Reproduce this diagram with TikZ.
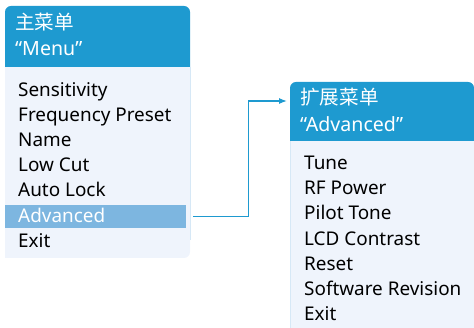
\documentclass[tikz,border=0pt]{standalone}
\usepackage{fontspec}
\setmainfont{Noto Sans}
\newfontfamily\cjk{Noto Sans CJK SC}
\usetikzlibrary{arrows.meta}
\definecolor{hdrblue}{RGB}{30,154,208}
\definecolor{bodybg}{RGB}{239,244,252}
\definecolor{bodyline}{RGB}{214,232,246}
\definecolor{barblue}{RGB}{125,182,224}
\tikzset{
  item/.style={anchor=base west, inner sep=0pt, text=black,
    font=\fontsize{18.9}{20}\selectfont},
  hdrtext/.style={item, text=white, font=\fontsize{19.6}{21}\selectfont},
  bartext/.style={item, text=white},
  barbox/.style={fill=barblue, anchor=north west, inner sep=0pt,
    minimum width=181pt, minimum height=23pt},
  link/.style={draw=hdrblue, line width=1.2pt, -{Latex[length=8pt,width=6pt]}}
}
\begin{document}
\begin{tikzpicture}[x=1pt, y=-1pt]
  \useasboundingbox (0,0) rectangle (474,328);
  % main menu
  \fill [ bodybg ] (5,67) -- (5,258) [rounded corners=6pt] -- (190,258) [sharp corners] -- (190,67) -- cycle;
  \draw [ bodyline ] (190,67)--(190,240);
  \fill [ hdrblue, rounded corners=6pt ] (5,67) -- (5,6) -- (190,6) [sharp corners] -- (190,67) -- cycle;
  \node [ hdrtext ] (mainzh) at (15,30) { \cjk 主菜单 };
  \node [ hdrtext ] (mainen) at (15,56) { “Menu” };
  \node [ barbox ] (advbar) at (5,205) {};
  \node [ item ] (sens) at (18,97) { Sensitivity };
  \node [ item ] (freq) at (18,122) { Frequency Preset };
  \node [ item ] (name) at (18,147) { Name };
  \node [ item ] (lowcut) at (18,172) { Low Cut };
  \node [ item ] (autolock) at (18,197) { Auto Lock };
  \node [ bartext ] (adv) at (18,223) { Advanced };
  \node [ item ] (exita) at (18,248) { Exit };
  % advanced menu
  \fill [ bodybg ] (290,141) rectangle (474,328);
  \draw [ bodyline ] (290,141)--(290,328);
  \fill [ hdrblue, rounded corners=6pt ] (290,141) -- (290,82) -- (474,82) [sharp corners] -- (474,141) -- cycle;
  \node [ hdrtext ] (advzh) at (300,105) { \cjk 扩展菜单 };
  \node [ hdrtext ] (adven) at (300,132) { “Advanced” };
  \node [ item ] (tune) at (304,170) { Tune };
  \node [ item ] (rf) at (304,195) { RF Power };
  \node [ item ] (pilot) at (304,220) { Pilot Tone };
  \node [ item ] (lcd) at (304,246) { LCD Contrast };
  \node [ item ] (reset) at (304,271) { Reset };
  \node [ item ] (soft) at (304,296) { Software Revision };
  \node [ item ] (exitb) at (304,321) { Exit };
  % link
  \coordinate (advin) at (287,101);
  \draw [ link ] ([xshift=7pt]advbar.east) -- ++(55,0) |- (advin);
\end{tikzpicture}
\end{document}
